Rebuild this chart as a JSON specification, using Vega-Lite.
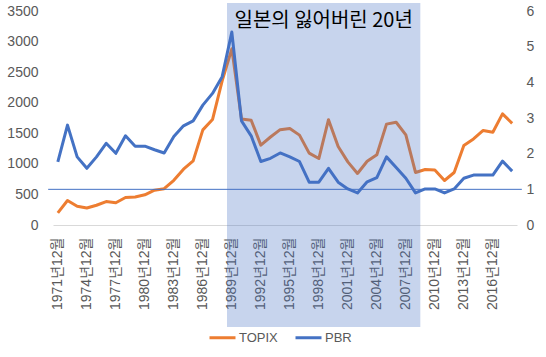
{
  "$schema": "https://vega.github.io/schema/vega-lite/v6.json",
  "width": 464,
  "height": 214,
  "autosize": "none",
  "padding": {"left": 53, "top": 11, "right": 29, "bottom": 132},
  "background": "white",
  "config": {
    "view": {"stroke": null},
    "font": "Liberation Sans, Noto Sans CJK KR",
    "axis": {"labelFont": "Liberation Sans, Noto Sans CJK KR", "labelFontSize": 14, "labelColor": "#595959", "ticks": false, "grid": false, "title": null},
    "axisX": {"labelOverlap": false, "labelSeparation": 0}
  },
  "data": {"values": [
    {"year": 1971, "topix": 199, "pbr": 1.77},
    {"year": 1972, "topix": 401, "pbr": 2.80},
    {"year": 1973, "topix": 306, "pbr": 1.91},
    {"year": 1974, "topix": 278, "pbr": 1.59},
    {"year": 1975, "topix": 323, "pbr": 1.91},
    {"year": 1976, "topix": 383, "pbr": 2.29},
    {"year": 1977, "topix": 364, "pbr": 2.01},
    {"year": 1978, "topix": 449, "pbr": 2.50},
    {"year": 1979, "topix": 459, "pbr": 2.21},
    {"year": 1980, "topix": 494, "pbr": 2.21},
    {"year": 1981, "topix": 570, "pbr": 2.11},
    {"year": 1982, "topix": 593, "pbr": 2.02},
    {"year": 1983, "topix": 731, "pbr": 2.48},
    {"year": 1984, "topix": 913, "pbr": 2.78},
    {"year": 1985, "topix": 1049, "pbr": 2.92},
    {"year": 1986, "topix": 1556, "pbr": 3.36},
    {"year": 1987, "topix": 1725, "pbr": 3.69},
    {"year": 1988, "topix": 2357, "pbr": 4.16},
    {"year": 1989, "topix": 2881, "pbr": 5.41},
    {"year": 1990, "topix": 1733, "pbr": 2.92},
    {"year": 1991, "topix": 1714, "pbr": 2.50},
    {"year": 1992, "topix": 1307, "pbr": 1.78},
    {"year": 1993, "topix": 1439, "pbr": 1.87},
    {"year": 1994, "topix": 1559, "pbr": 2.02},
    {"year": 1995, "topix": 1577, "pbr": 1.91},
    {"year": 1996, "topix": 1470, "pbr": 1.78},
    {"year": 1997, "topix": 1175, "pbr": 1.20},
    {"year": 1998, "topix": 1087, "pbr": 1.20},
    {"year": 1999, "topix": 1722, "pbr": 1.59},
    {"year": 2000, "topix": 1283, "pbr": 1.20},
    {"year": 2001, "topix": 1032, "pbr": 1.01},
    {"year": 2002, "topix": 843, "pbr": 0.90},
    {"year": 2003, "topix": 1043, "pbr": 1.21},
    {"year": 2004, "topix": 1149, "pbr": 1.33},
    {"year": 2005, "topix": 1650, "pbr": 1.91},
    {"year": 2006, "topix": 1681, "pbr": 1.61},
    {"year": 2007, "topix": 1475, "pbr": 1.31},
    {"year": 2008, "topix": 859, "pbr": 0.90},
    {"year": 2009, "topix": 907, "pbr": 1.01},
    {"year": 2010, "topix": 898, "pbr": 1.01},
    {"year": 2011, "topix": 728, "pbr": 0.90},
    {"year": 2012, "topix": 859, "pbr": 1.01},
    {"year": 2013, "topix": 1302, "pbr": 1.31},
    {"year": 2014, "topix": 1407, "pbr": 1.40},
    {"year": 2015, "topix": 1547, "pbr": 1.40},
    {"year": 2016, "topix": 1518, "pbr": 1.40},
    {"year": 2017, "topix": 1817, "pbr": 1.79},
    {"year": 2018, "topix": 1663, "pbr": 1.51}
  ]},
  "layer": [
    {
      "mark": {"type": "line", "strokeWidth": 3, "strokeJoin": "round"},
      "encoding": {
        "x": {"field": "year", "type": "quantitative",
          "scale": {"domain": [1970.5, 2018.5], "nice": false, "zero": false},
          "axis": {"values": [1971, 1974, 1977, 1980, 1983, 1986, 1989, 1992, 1995, 1998, 2001, 2004, 2007, 2010, 2013, 2016],
            "tickCount": 50,
            "labelExpr": "datum.value + '년12월'", "labelAngle": -90, "labelPadding": 12, "labelFontSize": 14,
            "domainColor": "#D9D9D9", "domainWidth": 1, "labelOverlap": false, "labelSeparation": 0, "labelFlush": false}},
        "y": {"field": "topix", "type": "quantitative",
          "scale": {"domain": [0, 3500], "nice": false},
          "axis": {"orient": "left", "values": [0, 500, 1000, 1500, 2000, 2500, 3000, 3500], "tickCount": 20, "format": "d", "domain": false, "labelPadding": 15}},
        "color": {"datum": "TOPIX", "type": "nominal",
          "scale": {"domain": ["TOPIX", "PBR"], "range": ["#ED7D31", "#4472C4"]},
          "legend": {"orient": "none", "legendX": 155, "legendY": 312, "direction": "horizontal", "title": null,
            "symbolType": "stroke", "symbolSize": 676, "symbolStrokeWidth": 3, "labelFontSize": 13, "labelColor": "#595959",
            "labelFont": "Liberation Sans", "labelOffset": 2, "columnPadding": 11}}
      }
    },
    {
      "mark": {"type": "line", "strokeWidth": 3, "strokeJoin": "round"},
      "encoding": {
        "x": {"field": "year", "type": "quantitative", "scale": {"domain": [1970.5, 2018.5], "nice": false, "zero": false}},
        "y": {"field": "pbr", "type": "quantitative",
          "scale": {"domain": [0, 6], "nice": false},
          "axis": {"orient": "right", "values": [0, 1, 2, 3, 4, 5, 6], "tickCount": 20, "format": "d", "domain": false, "labelPadding": 9}},
        "color": {"datum": "PBR", "type": "nominal"}
      }
    },
    {
      "data": {"values": [{"xs": 1970, "xe": 2019, "v": 1}]},
      "mark": {"type": "rule", "color": "#4472C4", "strokeWidth": 1},
      "encoding": {
        "x": {"field": "xs", "type": "quantitative", "scale": {"domain": [1970.5, 2018.5], "nice": false, "zero": false}},
        "x2": {"field": "xe"},
        "y": {"field": "v", "type": "quantitative", "scale": {"domain": [0, 6], "nice": false}, "axis": null}
      }
    },
    {
      "data": {"values": [{"s": 1988.5, "e": 2008.5, "top": 3631, "bottom": -1668}]},
      "mark": {"type": "rect", "color": "#4472C4", "opacity": 0.3},
      "encoding": {
        "x": {"field": "s", "type": "quantitative", "scale": {"domain": [1970.5, 2018.5], "nice": false, "zero": false}},
        "x2": {"field": "e"},
        "y": {"field": "top", "type": "quantitative", "scale": {"domain": [0, 3500], "nice": false}, "axis": null},
        "y2": {"field": "bottom"}
      }
    },
    {
      "data": {"values": [{"x": 1998.5, "y": 3336, "label": "일본의 잃어버린 20년"}]},
      "mark": {"type": "text", "fontSize": 20, "font": "Noto Sans CJK KR", "color": "#000000", "baseline": "middle", "align": "center"},
      "encoding": {
        "x": {"field": "x", "type": "quantitative", "scale": {"domain": [1970.5, 2018.5], "nice": false, "zero": false}},
        "y": {"field": "y", "type": "quantitative", "scale": {"domain": [0, 3500], "nice": false}, "axis": null},
        "text": {"field": "label"}
      }
    }
  ],
  "resolve": {"scale": {"y": "independent"}}
}
